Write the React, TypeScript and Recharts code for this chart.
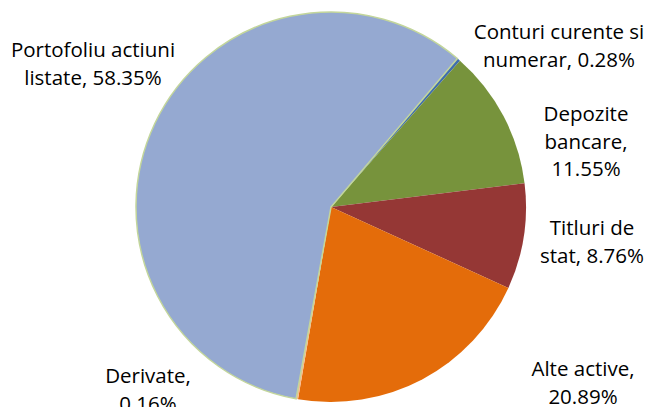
import { PieChart, Pie, Cell } from 'recharts'

const names = ['Conturi curente si numerar', 'Depozite bancare', 'Titluri de stat', 'Alte active', 'Derivate', 'Portofoliu actiuni listate']
const values = [0.28, 11.55, 8.76, 20.89, 0.16, 58.35]
const colors = ['#3F6EAE', '#77933C', '#953735', '#E46C0A', '#F9B98A', '#95A9D1']
const strokes = ['none', 'none', 'none', 'none', 'none', '#C3D69B']

// label text lines per slice, same order as names
const labelLines = [
  ['Conturi curente si', 'numerar, 0.28%'],
  ['Depozite', 'bancare,', '11.55%'],
  ['Titluri de', 'stat, 8.76%'],
  ['Alte active,', '20.89%'],
  ['Derivate,', '0.16%'],
  ['Portofoliu actiuni', 'listate, 58.35%'],
]
const labelAnchor = [
  { x: 559, y: 31 },
  { x: 586, y: 113 },
  { x: 592, y: 227 },
  { x: 583, y: 368 },
  { x: 148, y: 375 },
  { x: 93, y: 49 },
]

const data = names.map((name, i) => ({ name, value: values[i] }))

const renderLabel = (props: { index: number }) => {
  const lines = labelLines[props.index]
  const pos = labelAnchor[props.index]
  return (
    <text
      key={`lbl-${props.index}`}
      x={pos.x}
      y={pos.y}
      textAnchor="middle"
      dominantBaseline="central"
      fill="#000"
      fontFamily="'Open Sans'"
      fontSize={20.5}
    >
      {lines.map((l, j) => (
        <tspan key={j} x={pos.x} dy={j === 0 ? 0 : 27.5}>
          {l}
        </tspan>
      ))}
    </text>
  )
}

export default function App() {
  return (
    <div style={{ position: 'absolute', left: 0, top: 0, width: 646, height: 407, background: '#fff' }}>
      <PieChart width={646} height={407} margin={{ top: 0, right: 0, bottom: 0, left: 0 }}>
        <Pie
          data={data}
          dataKey="value"
          cx={331}
          cy={207}
          outerRadius={195}
          startAngle={49.6}
          endAngle={49.6 - 360}
          label={renderLabel}
          labelLine={false}
          isAnimationActive={false}
        >
          {data.map((d, i) => (
            <Cell key={d.name} fill={colors[i]} stroke={strokes[i]} strokeWidth={1.5} />
          ))}
        </Pie>
      </PieChart>
    </div>
  )
}
